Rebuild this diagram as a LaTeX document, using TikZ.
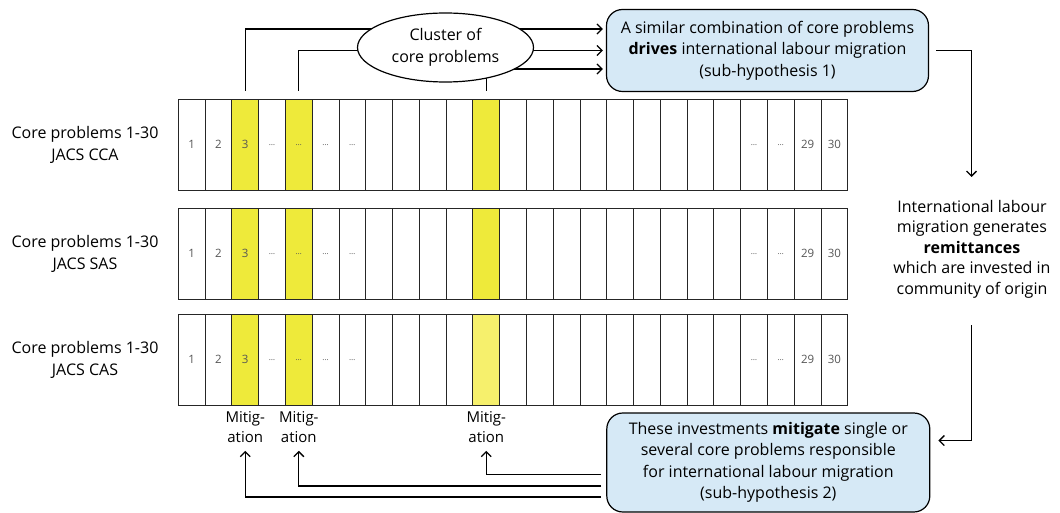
\documentclass[tikz,border=0pt]{standalone}
\usepackage{fontspec}
\setmainfont{Open Sans}
\usetikzlibrary{arrows.meta,shapes.geometric}
\definecolor{probyellow}{HTML}{EEEA3A}
\definecolor{probpale}{HTML}{F6F06C}
\definecolor{hypblue}{HTML}{D6E9F6}
\definecolor{numgray}{HTML}{555555}

\tikzset{
  cell/.style={draw=black!85, line width=0.9pt, minimum width=26.78pt, minimum height=91.5pt,
    inner sep=0pt, text=numgray, font=\fontsize{11.5}{11.5}\selectfont},
  hl3/.style={fill=probyellow}, hl5/.style={fill=probyellow}, hl12/.style={fill=probyellow},
  hl3-12/.style={fill=probpale},
  lbl/.style={align=center, font=\fontsize{16}{21.5}\selectfont},
  hyp/.style={lbl, draw, line width=1.2pt, rounded corners=16pt, fill=hypblue, inner sep=0pt},
  flow/.style={line width=1.3pt, -{Straight Barb[length=5pt,width=10pt]}},
}
\newcommand{\dts}{{\fontsize{8}{8}\selectfont\dots}}

\begin{document}
\begin{tikzpicture}[x=1pt,y=-1pt]
\useasboundingbox (0,0) rectangle (1060,513);

% the three rows of core problems
\foreach \r/\top/\name in {1/99/CCA,2/208/SAS,3/314/CAS} {
  \node[lbl] (lab\r) at (85,\top+45.75) {Core problems 1-30\\JACS \name};
  \foreach \i/\t in {1/1,2/2,3/3,4/\dts,5/\dts,6/\dts,7/\dts,8/{},9/{},10/{},11/{},12/{},13/{},
      14/{},15/{},16/{},17/{},18/{},19/{},20/{},21/{},22/\dts,23/\dts,24/29,25/30}
    \node[cell, hl\i/.try, hl\r-\i/.try] (r\r c\i) at ({178.3+26.78*(\i-0.5)},\top+45.75) {\t};
}

% hypothesis boxes and remittances
\node[hyp, minimum width=322pt, minimum height=82pt] (drives) at (767.5,50.5)
  {A similar combination of core problems\\\textbf{drives} international labour migration\\(sub-hypothesis 1)};
\node[hyp, minimum width=323pt, minimum height=99pt] (mitigate) at (768.3,462.5)
  {These investments \textbf{mitigate} single or\\several core problems responsible\\for international labour migration\\(sub-hypothesis 2)};
\node[lbl, font=\fontsize{16}{20.5}\selectfont] (remit) at (972,249)
  {International labour\\migration generates\\\textbf{remittances}\\which are invested in\\community of origin};

\coordinate (down) at (971.5,177);
\coordinate (up) at (971.5,325);

% cluster arrows (ellipse drawn on top)
\draw[flow] ([yshift=8pt]r1c3.north) |- ([xshift=-3pt,yshift=21.5pt]drives.west);
\draw[flow] ([yshift=8pt]r1c5.north) |- ([xshift=-3pt]drives.west);
\draw[flow] ([yshift=8pt]r1c12.north) |- ([xshift=-3pt,yshift=-18.5pt]drives.west);
\node[lbl, ellipse, draw, line width=1.2pt, fill=white, minimum width=176pt, minimum height=69pt,
  inner sep=0pt] (cluster) at (445.5,47.5) {Cluster of\\core problems};

\draw[flow] ([xshift=7pt]drives.east) -| (down);
\draw[flow] (up) |- ([xshift=8pt,yshift=22pt]mitigate.east);

% mitigation
\foreach \i in {3,5,12}
  \node[lbl, font=\fontsize{15}{20}\selectfont, inner sep=0pt] (mit\i) at (r3c\i.south |- 0,427) {Mitig-\\ation};
\draw[flow] ([xshift=-5pt,yshift=-12pt]mitigate.west) -| ([yshift=-8pt]mit12.south);
\draw[flow] ([xshift=-5pt,yshift=-23.5pt]mitigate.west) -| ([yshift=-8pt]mit5.south);
\draw[flow] ([xshift=-5pt,yshift=-34.5pt]mitigate.west) -| ([yshift=-8pt]mit3.south);
\end{tikzpicture}
\end{document}
